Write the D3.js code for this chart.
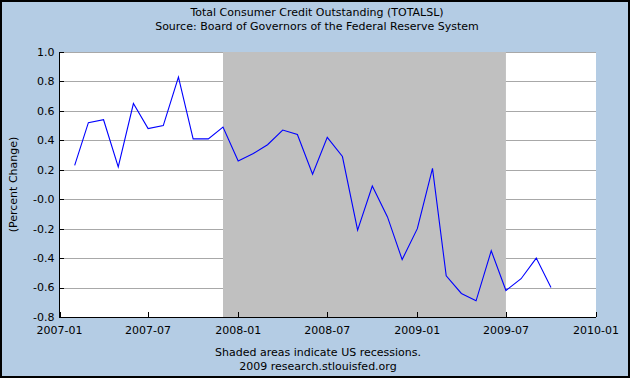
<!DOCTYPE html>
<html>
<head>
<meta charset="utf-8">
<script src="https://cdn.jsdelivr.net/npm/d3@7/dist/d3.min.js"></script>
<style>
  html, body { margin: 0; padding: 0; background: #fff; }
  svg { display: block; }
  text { font-family: "DejaVu Sans", Verdana, sans-serif; fill: #000; }
</style>
</head>
<body>
<svg id="chart" width="630" height="378"></svg>
<script>
// ---- Data ----
const months = [
  "2007-02","2007-03","2007-04","2007-05","2007-06","2007-07","2007-08","2007-09","2007-10","2007-11","2007-12",
  "2008-01","2008-02","2008-03","2008-04","2008-05","2008-06","2008-07","2008-08","2008-09","2008-10","2008-11","2008-12",
  "2009-01","2009-02","2009-03","2009-04","2009-05","2009-06","2009-07","2009-08","2009-09","2009-10"
];
const values = [
  0.23, 0.52, 0.54, 0.22, 0.65, 0.48, 0.50, 0.83, 0.41, 0.41, 0.49,
  0.26, 0.31, 0.37, 0.47, 0.44, 0.17, 0.42, 0.29, -0.21, 0.09, -0.12, -0.41,
  -0.20, 0.21, -0.52, -0.64, -0.69, -0.35, -0.62, -0.54, -0.40, -0.60
];
const recession = ["2007-12-01", "2009-07-01"];
const xTickLabels = ["2007-01","2007-07","2008-01","2008-07","2009-01","2009-07","2010-01"];
const yTickValues = [-0.8, -0.6, -0.4, -0.2, 0.0, 0.2, 0.4, 0.6, 0.8, 1.0];
const yTickLabels = ["-0.8","-0.6","-0.4","-0.2","-0.0","0.2","0.4","0.6","0.8","1.0"];
const titleLines = ["Total Consumer Credit Outstanding (TOTALSL)", "Source: Board of Governors of the Federal Reserve System"];
const footerLines = ["Shaded areas indicate US recessions.", "2009 research.stlouisfed.org"];
const yAxisTitle = "(Percent Change)";

// ---- Layout ----
const W = 630, H = 378;
const plot = { left: 59.5, right: 596, top: 52, bottom: 317 };
const parse = d3.utcParse("%Y-%m");
const parseDay = d3.utcParse("%Y-%m-%d");

const svg = d3.select("#chart");

// background
svg.append("rect").attr("x", 0).attr("y", 0).attr("width", W).attr("height", H)
  .attr("fill", "#b4cce4");
svg.append("rect").attr("x", 1).attr("y", 1).attr("width", W - 2).attr("height", H - 2)
  .attr("fill", "none").attr("stroke", "#000").attr("stroke-width", 2);

const x = d3.scaleUtc()
  .domain([parse("2007-01"), parse("2010-01")])
  .range([plot.left, plot.right]);
const y = d3.scaleLinear()
  .domain([-0.8, 1.0])
  .range([plot.bottom, plot.top]);

// plot background
svg.append("rect")
  .attr("x", plot.left).attr("y", plot.top)
  .attr("width", plot.right - plot.left).attr("height", plot.bottom - plot.top)
  .attr("fill", "#fff");

// gridlines
svg.append("g").selectAll("line").data(yTickValues).join("line")
  .attr("x1", plot.left).attr("x2", plot.right)
  .attr("y1", d => Math.round(y(d)) + 0.5).attr("y2", d => Math.round(y(d)) + 0.5)
  .attr("stroke", "#a8a8a8").attr("stroke-width", 1)
  .attr("shape-rendering", "crispEdges");

// recession shading
svg.append("rect")
  .attr("x", x(parseDay(recession[0])))
  .attr("y", plot.top)
  .attr("width", x(parseDay(recession[1])) - x(parseDay(recession[0])))
  .attr("height", plot.bottom - plot.top)
  .attr("fill", "#c0c0c0");

// y axis
const yAxis = d3.axisRight(y)
  .tickValues(yTickValues)
  .tickSize(4)
  .tickFormat((d, i) => "");
const gy = svg.append("g")
  .attr("transform", `translate(${plot.left},0)`)
  .call(yAxis);
gy.select(".domain").remove();
gy.selectAll(".tick line").attr("stroke", "#000").attr("shape-rendering", "crispEdges");

svg.append("g").selectAll("text").data(yTickValues).join("text")
  .attr("x", plot.left - 5)
  .attr("y", d => y(d))
  .attr("dy", "0.35em")
  .attr("text-anchor", "end")
  .attr("font-size", 11)
  .text((d, i) => yTickLabels[i]);

// x axis
const xTickDates = xTickLabels.map(parse);
const xAxis = d3.axisTop(x)
  .tickValues(xTickDates)
  .tickSize(5)
  .tickFormat("");
const gx = svg.append("g")
  .attr("transform", `translate(0,${plot.bottom})`)
  .call(xAxis);
gx.select(".domain").remove();
gx.selectAll(".tick line").attr("stroke", "#000").attr("shape-rendering", "crispEdges");

svg.append("g").selectAll("text").data(xTickDates).join("text")
  .attr("x", d => x(d))
  .attr("y", plot.bottom + 13)
  .attr("dy", "0.35em")
  .attr("text-anchor", "middle")
  .attr("font-size", 11)
  .text((d, i) => xTickLabels[i]);

// axis lines
svg.append("line")
  .attr("x1", plot.left).attr("x2", plot.left)
  .attr("y1", plot.top).attr("y2", plot.bottom + 0.5)
  .attr("stroke", "#000").attr("stroke-width", 1).attr("shape-rendering", "crispEdges");
svg.append("line")
  .attr("x1", plot.left).attr("x2", plot.right)
  .attr("y1", plot.bottom + 0.5).attr("y2", plot.bottom + 0.5)
  .attr("stroke", "#000").attr("stroke-width", 1).attr("shape-rendering", "crispEdges");

// data line
const data = months.map((m, i) => ({ date: parse(m), value: values[i] }));
const line = d3.line().x(d => x(d.date)).y(d => y(d.value));
svg.append("path")
  .datum(data)
  .attr("d", line)
  .attr("fill", "none")
  .attr("stroke", "#0000ff")
  .attr("stroke-width", 1.1);

// titles
svg.append("g").selectAll("text").data(titleLines).join("text")
  .attr("x", 317)
  .attr("y", (d, i) => 12 + i * 14)
  .attr("dy", "0.35em")
  .attr("text-anchor", "middle")
  .attr("font-size", 11)
  .text(d => d);

svg.append("g").selectAll("text").data(footerLines).join("text")
  .attr("x", 318)
  .attr("y", (d, i) => 352 + i * 14)
  .attr("dy", "0.35em")
  .attr("text-anchor", "middle")
  .attr("font-size", 11)
  .text(d => d);

// y axis title
svg.append("text")
  .attr("transform", `translate(13,${(plot.top + plot.bottom) / 2}) rotate(-90)`)
  .attr("dy", "0.35em")
  .attr("text-anchor", "middle")
  .attr("font-size", 11)
  .text(yAxisTitle);
</script>
</body>
</html>
